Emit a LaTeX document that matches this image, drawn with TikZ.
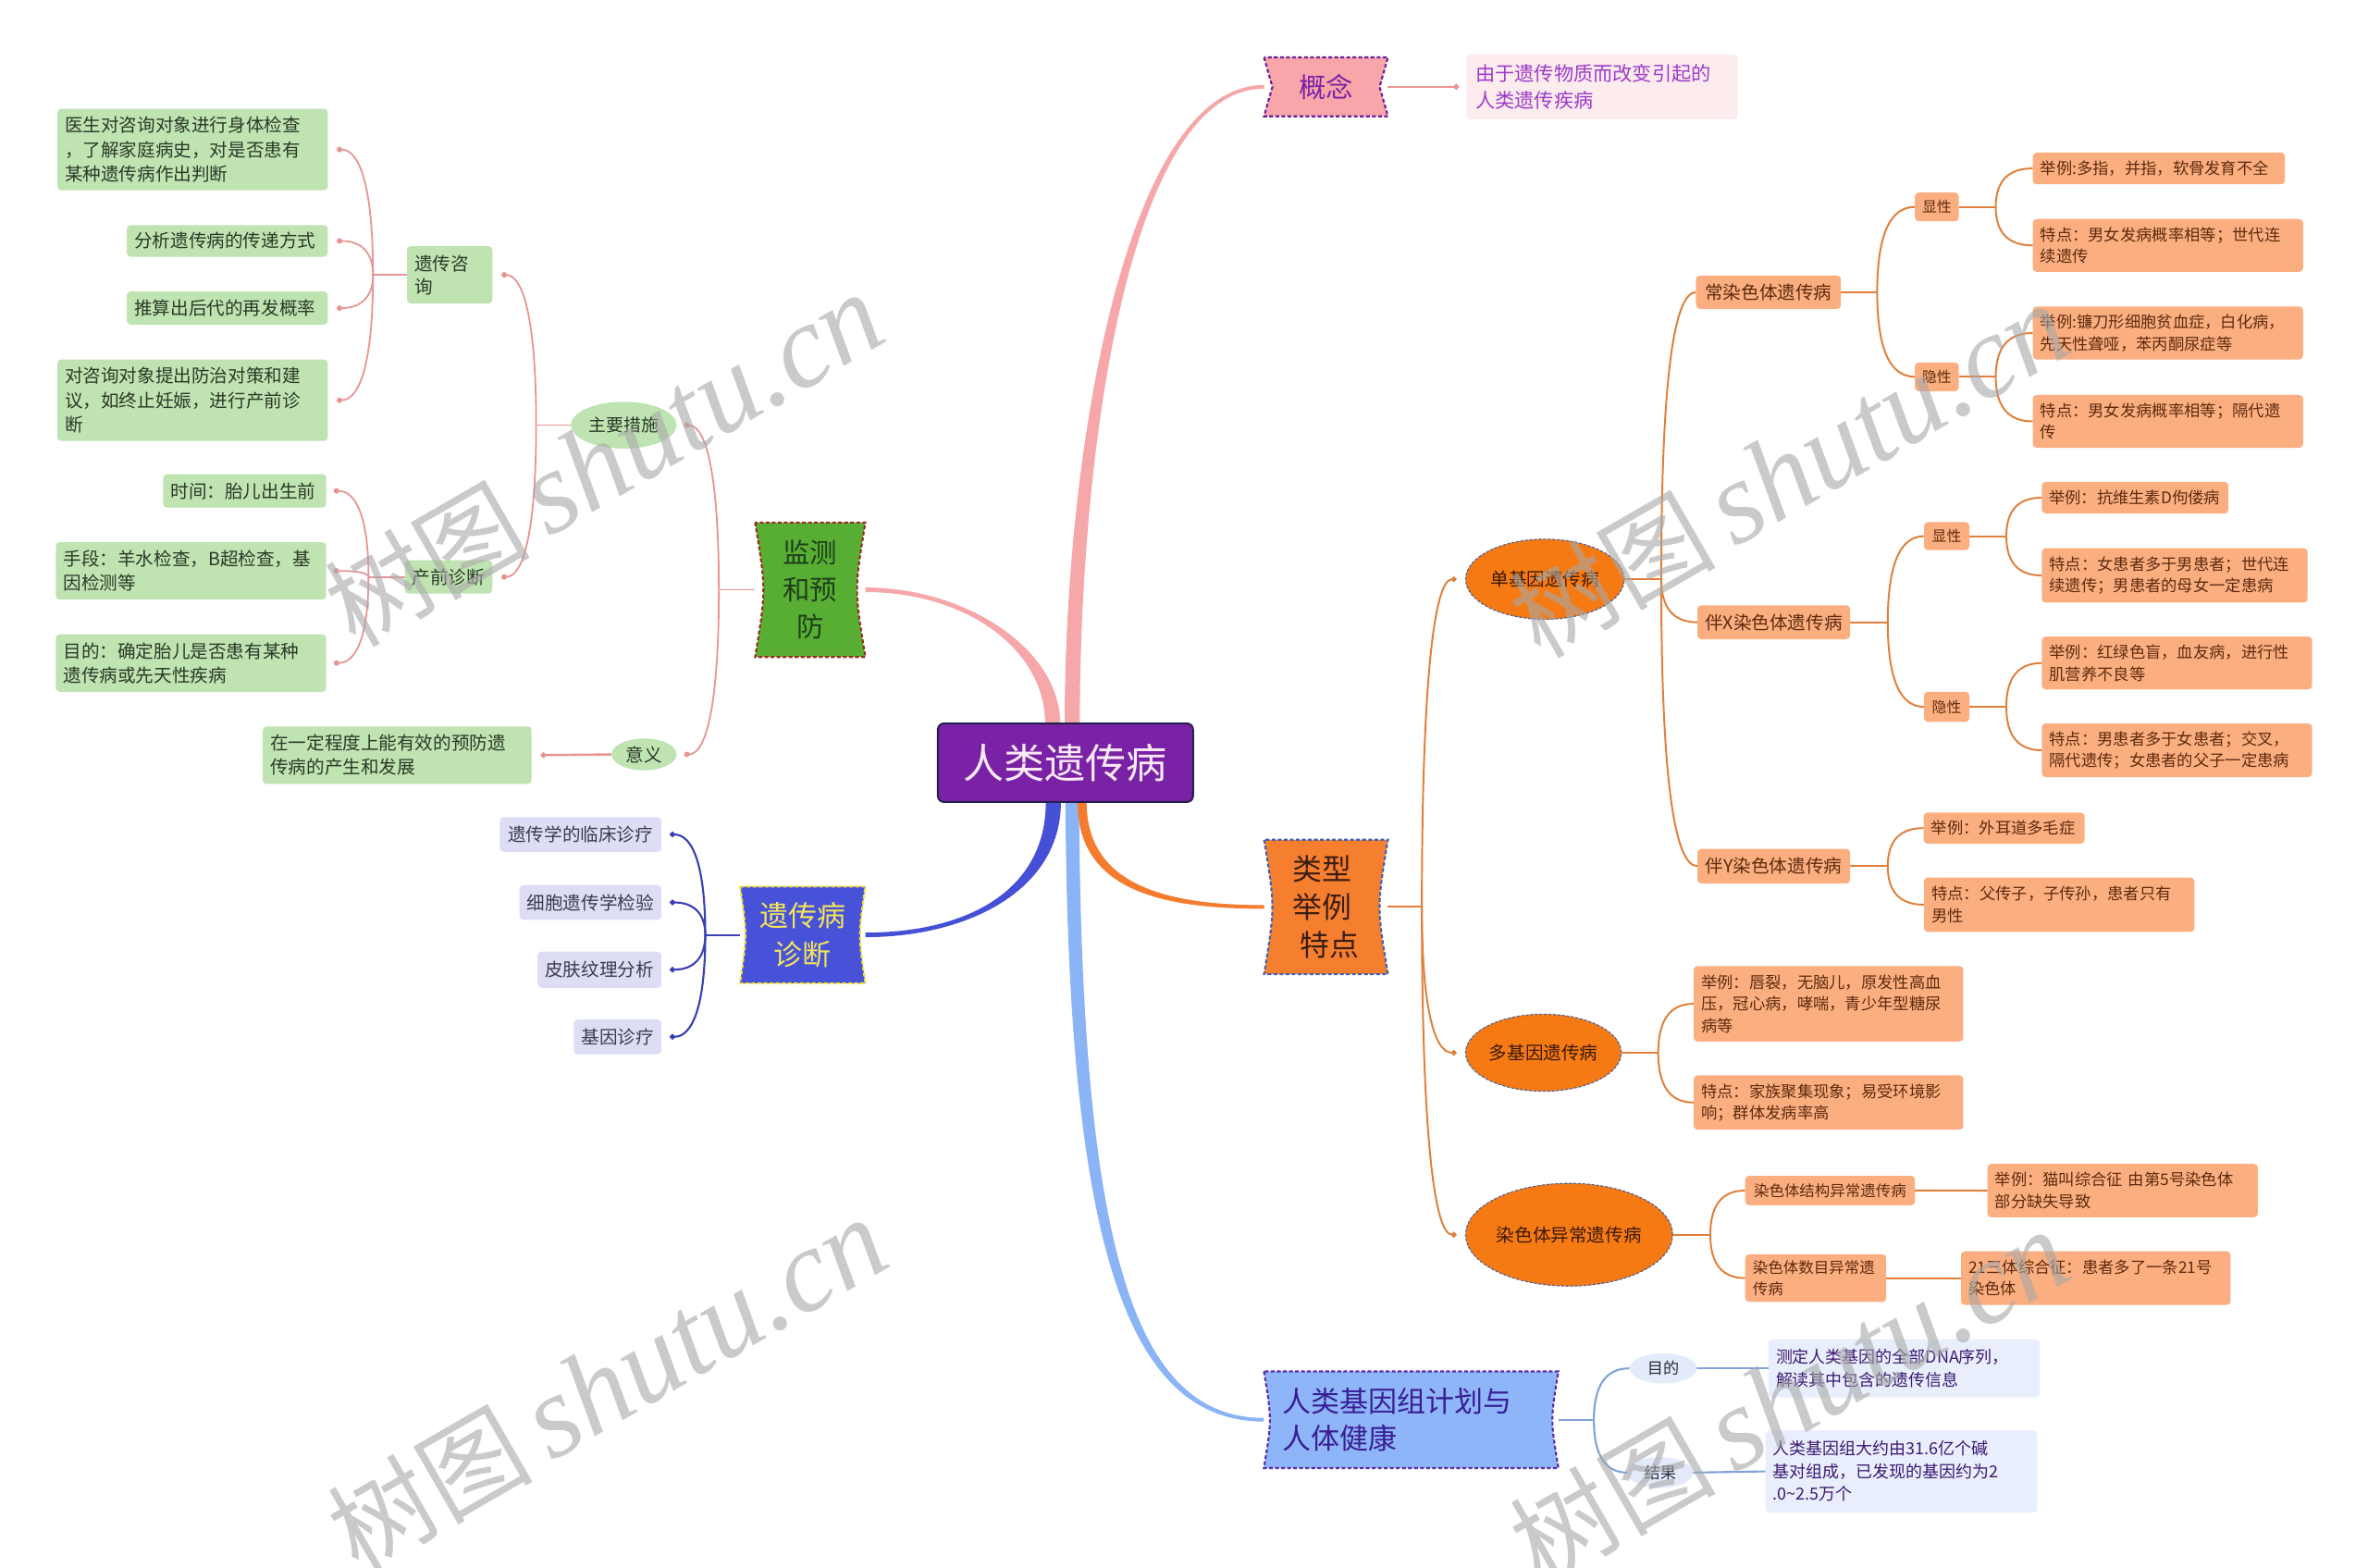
\documentclass[tikz,border=0pt]{standalone}
\usepackage{fontspec}
\setmainfont{Noto Sans CJK SC}
\newfontfamily\wmlat{Liberation Serif}
\usetikzlibrary{calc,backgrounds,shapes.geometric,arrows.meta}

\definecolor{cCentral}{HTML}{7A22A5}
\definecolor{cCentralB}{HTML}{23204F}
\definecolor{cCentralT}{HTML}{FBE9F7}
\definecolor{cPinkMain}{HTML}{F6A7A9}
\definecolor{cPinkLine}{HTML}{E89494}
\definecolor{cGreen}{HTML}{BFE3B1}
\definecolor{cGtext}{HTML}{2A3A28}
\definecolor{cJC}{HTML}{58AE33}
\definecolor{cJCb}{HTML}{9B2B1E}
\definecolor{cJCt}{HTML}{1E3F1A}
\definecolor{cBlueMain}{HTML}{4650D6}
\definecolor{cBlueLine}{HTML}{3B3FB5}
\definecolor{cLav}{HTML}{DDDEF6}
\definecolor{cLavT}{HTML}{3A3A50}
\definecolor{cZD}{HTML}{4752D9}
\definecolor{cZDb}{HTML}{F2E437}
\definecolor{cZDt}{HTML}{F3E45A}
\definecolor{cOrMain}{HTML}{F57B2E}
\definecolor{cOrLine}{HTML}{E07E3A}
\definecolor{cOrLeaf}{HTML}{FBAF80}
\definecolor{cOrText}{HTML}{5E2A0E}
\definecolor{cEll}{HTML}{F67A14}
\definecolor{cEllB}{HTML}{55608F}
\definecolor{cEllT}{HTML}{3A1A0A}
\definecolor{cLX}{HTML}{F57E2F}
\definecolor{cLXb}{HTML}{3D62B3}
\definecolor{cLXt}{HTML}{3A1E12}
\definecolor{cHBmain}{HTML}{8AB4F6}
\definecolor{cHBline}{HTML}{7FA3DA}
\definecolor{cHG}{HTML}{8DB5F8}
\definecolor{cHGb}{HTML}{5B2CA5}
\definecolor{cHGt}{HTML}{3A1D95}
\definecolor{cHleaf}{HTML}{E8EEFB}
\definecolor{cHtext}{HTML}{3C1872}
\definecolor{cHell}{HTML}{E3EBFA}
\definecolor{cHtextB}{HTML}{2A2A40}
\definecolor{cGN}{HTML}{F8A6A9}
\definecolor{cGNb}{HTML}{6B1F9C}
\definecolor{cGNt}{HTML}{7A22A8}
\definecolor{cGleaf}{HTML}{FCECEE}
\definecolor{cGleafT}{HTML}{9E3BC9}
\definecolor{cWM}{HTML}{A8A8A8}

% child connector: style, bracket coordinate, child node, anchor, xshift of end
\newcommand\mmkid[5]{%
  \coordinate (t#3) at ([xshift=#5]#3.#4);
  \draw[#1] (#2) .. controls ($(#2)!0.667!(#2 |- t#3)$) and ($(t#3)!0.667!(#2 |- t#3)$) .. (t#3);
}
% hourglass shape behind a node
\newcommand\mmhg[5]{%
  \path[fill=#3, draw=#4, #5] (#1.north west) .. controls ($(#1.west)+(#2,0)$) .. (#1.south west) -- (#1.south east) .. controls ($(#1.east)-(#2,0)$) .. (#1.north east) -- cycle;
}
% banner shape with notched sides
\newcommand\mmbn[5]{%
  \path[fill=#3, draw=#4, #5] (#1.north west) -- ($(#1.west)+(#2,0)$) -- (#1.south west) -- (#1.south east) -- ($(#1.east)-(#2,0)$) -- (#1.north east) -- cycle;
}

\begin{document}
\begin{tikzpicture}[x=1pt,y=-1pt,
  every node/.style={inner sep=0pt, outer sep=0pt},
  gleaf/.style={fill=cGreen, text=cGtext, rounded corners=2.5pt, inner xsep=5pt, align=left, font=\fontsize{12}{16}\selectfont},
  oleaf/.style={fill=cOrLeaf, text=cOrText, rounded corners=2.5pt, inner xsep=5pt, align=left, font=\fontsize{10.6}{14.3}\selectfont},
  obox/.style={fill=cOrLeaf, text=cOrText, rounded corners=2.5pt, align=center, font=\fontsize{12}{15}\selectfont},
  osmall/.style={fill=cOrLeaf, text=cOrText, rounded corners=2.5pt, align=center, font=\fontsize{9.7}{12}\selectfont},
  lav/.style={fill=cLav, text=cLavT, rounded corners=2.5pt, align=center, font=\fontsize{12}{15}\selectfont},
  hleaf/.style={fill=cHleaf, text=cHtext, rounded corners=2.5pt, inner xsep=5pt, align=left, font=\fontsize{11}{15}\selectfont},
  gell/.style={ellipse, fill=cGreen, text=cGtext, font=\fontsize{12}{14}\selectfont},
  oell/.style={ellipse, fill=cEll, draw=cEllB, dash pattern=on 2pt off 1pt, line width=0.7pt, text=cEllT, font=\fontsize{12}{14}\selectfont},
  hell/.style={ellipse, fill=cHell, text=cHtextB, font=\fontsize{10.5}{12}\selectfont},
  lnpink/.style={draw=cPinkLine, line width=1.1pt},
  lnblue/.style={draw=cBlueLine, line width=1.3pt},
  lnor/.style={draw=cOrLine, line width=1.2pt},
  lnhb/.style={draw=cHBline, line width=1.3pt},
  enddot/.style={-{Circle[length=3.6pt,width=3.6pt]}},
  bigdash/.style={dash pattern=on 2.5pt off 1.5pt, line width=1.3pt},
]
\useasboundingbox (0,0) rectangle (1568,1038);

% ---------- central ----------
\node[fill=cCentral, draw=cCentralB, line width=1.2pt, rounded corners=4pt, minimum width=169pt, minimum height=52pt, text=cCentralT, font=\fontsize{27}{30}\selectfont] (C) at (705.5,505) {人类遗传病};

% ---------- 概念 ----------
\node[minimum width=82pt, minimum height=39pt, text=cGNt, font=\fontsize{18}{20}\selectfont] (GN) at (878,57.5) {概念};
\node[fill=cGleaf, text=cGleafT, rounded corners=3pt, inner xsep=6pt, align=left, text width=168pt, minimum height=43pt, font=\fontsize{13}{17.3}\selectfont] (G1) at (1061,57.5) {由于遗传物质而改变引起的\\人类遗传疾病};

% ---------- 监测和预防 ----------
\node[minimum width=73pt, minimum height=89pt, align=center, text=cJCt, font=\fontsize{18}{24.5}\selectfont] (JC) at (536.5,390.5) {监测\\和预\\防};
\node[gell, minimum width=70pt, minimum height=31pt, font=\fontsize{11.5}{13}\selectfont] (ZY) at (413,281.5) {主要措施};
\node[gell, minimum width=43pt, minimum height=21pt] (YY) at (426.5,499.5) {意义};
\node[gleaf, text width=46.5pt, minimum height=38pt, font=\fontsize{12}{15.3}\selectfont] (YC) at (297.75,182) {遗传咨\\询};
\node[gleaf, align=center, text width=48pt, minimum height=22pt] (CQ) at (297,382) {产前诊断};
\node[gleaf, text width=169pt, minimum height=54pt] (L1) at (127.5,99) {医生对咨询对象进行身体检查\\，了解家庭病史，对是否患有\\某种遗传病作出判断};
\node[gleaf, text width=123pt, minimum height=21pt] (L2) at (150.5,159.5) {分析遗传病的传递方式};
\node[gleaf, text width=123pt, minimum height=22pt] (L3) at (150.5,204) {推算出后代的再发概率};
\node[gleaf, text width=169pt, minimum height=54pt] (L4) at (127.5,265) {对咨询对象提出防治对策和建\\议，如终止妊娠，进行产前诊\\断};
\node[gleaf, text width=98pt, minimum height=22pt] (L5) at (162,325) {时间：胎儿出生前};
\node[gleaf, text width=169pt, minimum height=38pt] (L6) at (126.5,378) {手段：羊水检查，B超检查，基\\因检测等};
\node[gleaf, text width=169pt, minimum height=38pt] (L7) at (126.5,439) {目的：确定胎儿是否患有某种\\遗传病或先天性疾病};
\node[gleaf, text width=168pt, minimum height=38pt] (L8) at (263,500) {在一定程度上能有效的预防遗\\传病的产生和发展};

% ---------- 遗传病诊断 ----------
\node[minimum width=83pt, minimum height=64pt, align=center, text=cZDt, font=\fontsize{19}{25.5}\selectfont] (ZD) at (531.5,619) {遗传病\\诊断};
\node[lav, minimum width=107pt, minimum height=23pt] (D1) at (384.5,552.5) {遗传学的临床诊疗};
\node[lav, minimum width=94pt, minimum height=23pt] (D2) at (391,597.5) {细胞遗传学检验};
\node[lav, minimum width=82pt, minimum height=24pt] (D3) at (397,642) {皮肤纹理分析};
\node[lav, minimum width=58pt, minimum height=23pt] (D4) at (409,686.5) {基因诊疗};

% ---------- 类型举例特点 ----------
\node[minimum width=82pt, minimum height=89pt, align=left, text=cLXt, font=\fontsize{19.5}{25}\selectfont] (LX) at (878,600.5) {类型\\举例\\\hspace*{5pt}特点};
\node[oell, minimum width=105pt, minimum height=53pt] (DJ) at (1023,383.5) {单基因遗传病};
\node[oell, minimum width=103pt, minimum height=51pt] (DG) at (1022,697) {多基因遗传病};
\node[oell, minimum width=137pt, minimum height=68pt] (RS) at (1039,817.5) {染色体异常遗传病};

\node[obox, minimum width=96pt, minimum height=22pt] (CR) at (1171,193.5) {常染色体遗传病};
\node[obox, minimum width=101pt, minimum height=22.5pt] (BX) at (1174.5,412) {伴X染色体遗传病};
\node[obox, minimum width=101pt, minimum height=23pt] (BY) at (1174.5,573.5) {伴Y染色体遗传病};
\node[osmall, minimum width=29pt, minimum height=19pt] (XA) at (1282.5,137) {显性};
\node[osmall, minimum width=29pt, minimum height=19pt] (YA) at (1282.5,249.5) {隐性};
\node[osmall, minimum width=30pt, minimum height=18.5pt] (XX) at (1289,355) {显性};
\node[osmall, minimum width=30pt, minimum height=20pt] (YX) at (1289,468) {隐性};

\node[oleaf, text width=157pt, minimum height=21pt] (A1) at (1429.5,111.5) {举例:多指，并指，软骨发育不全};
\node[oleaf, text width=169pt, minimum height=35pt] (A2) at (1435.5,162.5) {特点：男女发病概率相等；世代连\\续遗传};
\node[oleaf, text width=169pt, minimum height=35pt] (A3) at (1435.5,220.5) {举例:镰刀形细胞贫血症，白化病，\\先天性聋哑，苯丙酮尿症等};
\node[oleaf, text width=169pt, minimum height=35pt] (A4) at (1435.5,279) {特点：男女发病概率相等；隔代遗\\传};
\node[oleaf, text width=114pt, inner xsep=4.75pt, minimum height=21pt] (X1) at (1413.75,329.5) {举例：抗维生素D佝偻病};
\node[oleaf, text width=166pt, minimum height=36pt] (X2) at (1440,381) {特点：女患者多于男患者；世代连\\续遗传；男患者的母女一定患病};
\node[oleaf, text width=169pt, minimum height=35pt] (X3) at (1441.5,439) {举例：红绿色盲，血友病，进行性\\肌营养不良等};
\node[oleaf, text width=169pt, minimum height=35.5pt] (X4) at (1441.5,496.75) {特点：男患者多于女患者；交叉，\\隔代遗传；女患者的父子一定患病};
\node[oleaf, text width=96.5pt, minimum height=20.6pt] (Y1) at (1327,548.3) {举例：外耳道多毛症};
\node[oleaf, text width=169pt, minimum height=36pt] (Y2) at (1363.5,599) {特点：父传子，子传孙，患者只有\\男性};
\node[oleaf, text width=168.5pt, minimum height=50pt] (M1) at (1210.75,664.6) {举例：唇裂，无脑儿，原发性高血\\压，冠心病，哮喘，青少年型糖尿\\病等};
\node[oleaf, text width=168.5pt, minimum height=36pt] (M2) at (1210.75,730) {特点：家族聚集现象；易受环境影\\响；群体发病率高};
\node[obox, minimum width=112.4pt, minimum height=19.5pt, font=\fontsize{10.1}{12}\selectfont] (C1) at (1211.8,788.25) {染色体结构异常遗传病};
\node[oleaf, text width=83.4pt, minimum height=31.5pt, font=\fontsize{10.1}{14}\selectfont] (C2) at (1202.3,846.25) {染色体数目异常遗\\传病};
\node[oleaf, text width=169pt, minimum height=35.4pt] (C1L) at (1405.5,788.3) {举例：猫叫综合征~由第5号染色体\\部分缺失导致};
\node[oleaf, text width=168.5pt, minimum height=35.5pt] (C2L) at (1387.75,846.25) {21三体综合征：患者多了一条21号\\染色体};

% ---------- 人类基因组计划与人体健康 ----------
\node[text width=170pt, inner xsep=12.5pt, minimum height=64pt, align=left, text=cHGt, font=\fontsize{19}{24.5}\selectfont] (HG) at (934.4,940) {人类基因组计划与\\人体健康};
\node[hell, minimum width=44.6pt, minimum height=20pt] (MD) at (1101.3,906) {目的};
\node[hell, minimum width=43.5pt, minimum height=20.5pt] (JG) at (1099.3,975) {结果};
\node[hleaf, text width=169.5pt, minimum height=38.6pt] (H1) at (1260.75,906) {测定人类基因的全部DNA序列，\\解读其中包含的遗传信息};
\node[hleaf, text width=170pt, minimum height=54.4pt] (H2) at (1259,974.2) {人类基因组大约由31.6亿个碱\\基对组成，已发现的基因约为2\\.0\textasciitilde 2.5万个};

% ---------- connectors and shapes (behind) ----------
\begin{scope}[on background layer]
\fill[white] (0,0) rectangle (1568,1038);

% main tapered branches
\fill[cPinkMain] ([xshift=-0.5pt]C.north) .. controls (705,300) and (745,56.3) .. ([yshift=1.2pt]GN.west) -- ([yshift=-1.2pt]GN.west) .. controls (747,58.7) and (715,300) .. ([xshift=9.5pt]C.north) -- cycle;
\fill[cPinkMain] ([xshift=-13.5pt]C.north) .. controls (692,430) and (640,392) .. ([yshift=-1.5pt]JC.east) -- ([yshift=1.5pt]JC.east) .. controls (640,389) and (702,430) .. ([xshift=-3.5pt]C.north) -- cycle;
\fill[cBlueMain] ([xshift=-13pt]C.south) .. controls (692.5,590) and (640,617.5) .. ([yshift=1.5pt]ZD.east) -- ([yshift=-1.5pt]ZD.east) .. controls (640,620.5) and (702.5,590) .. ([xshift=-3pt]C.south) -- cycle;
\fill[cHBmain] ([xshift=0pt]C.south) .. controls (707,830) and (748,941.2) .. ([yshift=-1.2pt]HG.west) -- ([yshift=1.2pt]HG.west) .. controls (752,938.8) and (716,830) .. ([xshift=9pt]C.south) -- cycle;
\fill[cOrMain] ([xshift=8pt]C.south) .. controls (713.5,590) and (770,601.7) .. ([yshift=-1.2pt]LX.west) -- ([yshift=1.2pt]LX.west) .. controls (770,599.3) and (719.5,585) .. ([xshift=14pt]C.south) -- cycle;

% 概念 -> leaf
\draw[draw=cPinkLine, line width=1.6pt, enddot] (GN.east) -- ([xshift=-5pt]G1.west);

% 监测和预防 subtree
\coordinate (bJ) at ([xshift=-24pt]JC.west);
\draw[lnpink] (JC.west) -- (bJ);
\mmkid{lnpink,enddot}{bJ}{ZY}{east}{5pt}
\mmkid{lnpink,enddot}{bJ}{YY}{east}{5pt}
\coordinate (bZ) at ([xshift=-23pt]ZY.west);
\draw[lnpink] (ZY.west) -- (bZ);
\mmkid{lnpink,enddot}{bZ}{YC}{east}{6pt}
\mmkid{lnpink,enddot}{bZ}{CQ}{east}{6pt}
\coordinate (bY) at ([xshift=-22.5pt]YC.west);
\draw[lnpink] (YC.west) -- (bY);
\mmkid{lnpink,enddot}{bY}{L1}{east}{6pt}
\mmkid{lnpink,enddot}{bY}{L2}{east}{6pt}
\mmkid{lnpink,enddot}{bY}{L3}{east}{6pt}
\mmkid{lnpink,enddot}{bY}{L4}{east}{6pt}
\coordinate (bC) at ([xshift=-24pt]CQ.west);
\draw[lnpink] (CQ.west) -- (bC);
\mmkid{lnpink,enddot}{bC}{L5}{east}{5pt}
\mmkid{lnpink,enddot}{bC}{L6}{east}{5pt}
\mmkid{lnpink,enddot}{bC}{L7}{east}{5pt}
\draw[lnpink, line width=1.5pt, enddot] (YY.west) -- ([xshift=6pt]L8.east);

% 遗传病诊断 subtree
\coordinate (bD) at ([xshift=-23pt]ZD.west);
\draw[lnblue] (ZD.west) -- (bD);
\mmkid{lnblue,enddot}{bD}{D1}{east}{5.5pt}
\mmkid{lnblue,enddot}{bD}{D2}{east}{5.5pt}
\mmkid{lnblue,enddot}{bD}{D3}{east}{5.5pt}
\mmkid{lnblue,enddot}{bD}{D4}{east}{5.5pt}

% 类型举例特点 subtree
\coordinate (bL) at ([xshift=22.5pt]LX.east);
\draw[lnor] (LX.east) -- (bL);
\mmkid{lnor,enddot}{bL}{DJ}{west}{-6pt}
\mmkid{lnor,enddot}{bL}{DG}{west}{-6pt}
\mmkid{lnor,enddot}{bL}{RS}{west}{-6pt}
\coordinate (bDJ) at ([xshift=24.5pt]DJ.east);
\draw[lnor] (DJ.east) -- (bDJ);
\mmkid{lnor}{bDJ}{CR}{west}{0pt}
\mmkid{lnor}{bDJ}{BX}{west}{0pt}
\mmkid{lnor}{bDJ}{BY}{west}{0pt}
\coordinate (bCR) at ([xshift=24pt]CR.east);
\draw[lnor] (CR.east) -- (bCR);
\mmkid{lnor}{bCR}{XA}{west}{0pt}
\mmkid{lnor}{bCR}{YA}{west}{0pt}
\coordinate (bXA) at ([xshift=24.5pt]XA.east);
\draw[lnor] (XA.east) -- (bXA);
\mmkid{lnor}{bXA}{A1}{west}{0pt}
\mmkid{lnor}{bXA}{A2}{west}{0pt}
\coordinate (bYA) at ([xshift=24.5pt]YA.east);
\draw[lnor] (YA.east) -- (bYA);
\mmkid{lnor}{bYA}{A3}{west}{0pt}
\mmkid{lnor}{bYA}{A4}{west}{0pt}
\coordinate (bBX) at ([xshift=25pt]BX.east);
\draw[lnor] (BX.east) -- (bBX);
\mmkid{lnor}{bBX}{XX}{west}{0pt}
\mmkid{lnor}{bBX}{YX}{west}{0pt}
\coordinate (bXX) at ([xshift=24.5pt]XX.east);
\draw[lnor] (XX.east) -- (bXX);
\mmkid{lnor}{bXX}{X1}{west}{0pt}
\mmkid{lnor}{bXX}{X2}{west}{0pt}
\coordinate (bYX) at ([xshift=24.5pt]YX.east);
\draw[lnor] (YX.east) -- (bYX);
\mmkid{lnor}{bYX}{X3}{west}{0pt}
\mmkid{lnor}{bYX}{X4}{west}{0pt}
\coordinate (bBY) at ([xshift=25pt]BY.east);
\draw[lnor] (BY.east) -- (bBY);
\mmkid{lnor}{bBY}{Y1}{west}{0pt}
\mmkid{lnor}{bBY}{Y2}{west}{0pt}
\coordinate (bDG) at ([xshift=24.5pt]DG.east);
\draw[lnor] (DG.east) -- (bDG);
\mmkid{lnor}{bDG}{M1}{west}{0pt}
\mmkid{lnor}{bDG}{M2}{west}{0pt}
\coordinate (bRS) at ([xshift=25pt]RS.east);
\draw[lnor] (RS.east) -- (bRS);
\mmkid{lnor}{bRS}{C1}{west}{0pt}
\mmkid{lnor}{bRS}{C2}{west}{0pt}
\draw[lnor] (C1.east) -- (C1L.west);
\draw[lnor] (C2.east) -- (C2L.west);

% 人类基因组 subtree
\coordinate (bHG) at ([xshift=23.5pt]HG.east);
\draw[lnhb] (HG.east) -- (bHG);
\mmkid{lnhb}{bHG}{MD}{west}{0pt}
\mmkid{lnhb}{bHG}{JG}{west}{0pt}
\draw[lnhb] (MD.east) -- (H1.west);
\draw[lnhb] (JG.east) -- (H2.west);

% special shapes of main topics
\mmhg{JC}{7.3}{cJC}{cJCb}{bigdash}
\mmhg{ZD}{4.7}{cZD}{cZDb}{bigdash}
\mmhg{LX}{7.3}{cLX}{cLXb}{bigdash}
\mmhg{HG}{5.3}{cHG}{cHGb}{bigdash}
\mmbn{GN}{5.5}{cGN}{cGNb}{bigdash}
\end{scope}

% ---------- watermarks ----------
\foreach \wx/\wy [count=\wi] in {400/305, 1185/312, 402/917, 1185/925}{
  \node[rotate=30, text=cWM, text opacity=0.6, font=\fontsize{68}{70}\selectfont] (W\wi) at (\wx,\wy) {树图\hspace{12pt}{\wmlat\itshape\fontsize{78}{80}\selectfont shutu.cn}};
}
\end{tikzpicture}
\end{document}
